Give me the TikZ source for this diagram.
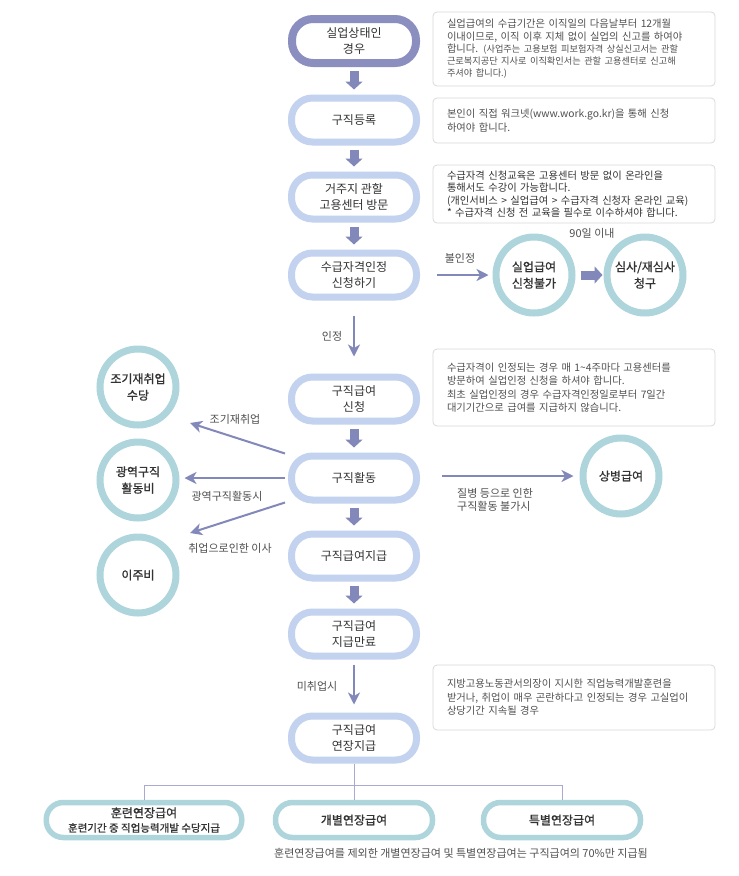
\documentclass[tikz,border=0pt]{standalone}
\usepackage{fontspec}
\setmainfont{Noto Sans CJK KR}
\newfontfamily\heavy[FakeBold=1]{Noto Sans CJK KR}
\usetikzlibrary{arrows.meta,calc}

\definecolor{startc}{HTML}{8A8FBF}
\definecolor{stagec}{HTML}{C3D2EE}
\definecolor{roundc}{HTML}{ADD5DB}
\definecolor{arrowc}{HTML}{8388BA}
\definecolor{notec}{HTML}{DADADA}
\definecolor{textc}{HTML}{333333}
\definecolor{greyc}{HTML}{505050}
\definecolor{treec}{HTML}{A8ABCF}
\newcommand\fine{\fontsize{9.2}{12.3}\selectfont}

\begin{document}
\begin{tikzpicture}[x=1pt,y=-1pt,
  stage/.style={draw=stagec, line width=7pt, rounded corners=21pt, minimum width=125pt, minimum height=44pt, align=center, text=textc, font=\fontsize{12}{16.5}\selectfont, inner sep=0pt},
  start/.style={stage, draw=startc, line width=8pt, minimum width=124pt},
  round/.style={circle, draw=roundc, line width=7pt, minimum size=76pt, align=center, text=textc, font=\heavy\fontsize{12}{16.5}\selectfont, inner sep=0pt},
  ext/.style={draw=roundc, line width=5.5pt, rounded corners=17pt, minimum height=35pt, align=center, text=textc, font=\heavy\fontsize{12}{14.5}\selectfont, inner sep=0pt},
  note/.style={draw=notec, line width=0.8pt, rounded corners=4pt, text width=254pt, inner xsep=14pt, inner ysep=0pt, align=left, text=greyc, font=\fontsize{10.3}{13.5}\selectfont},
  tag/.style={text=greyc, font=\fontsize{11}{13}\selectfont, inner sep=0pt},
  flow/.style={draw=arrowc, line width=9pt, -{Triangle[width=17pt,length=8pt]}, shorten <=4pt, shorten >=5pt},
  link/.style={draw=arrowc, line width=2pt, -{Stealth[length=12pt,width=12pt,inset=3.5pt]}},
  tree/.style={draw=treec, line width=1pt}]
\useasboundingbox[fill=white] (0,0) rectangle (739,876);

% main column
\node[start] (unemp) at (354,41) {실업상태인\\경우};
\node[stage] (register) at (354,120) {구직등록};
\node[stage] (visit) at (354,197) {거주지 관할\\고용센터 방문};
\node[stage] (apply) at (354,275) {수급자격인정\\신청하기};
\node[stage] (claim) at (354,399) {구직급여\\신청};
\node[stage] (search) at (354,478) {구직활동};
\node[stage] (pay) at (354,556) {구직급여지급};
\node[stage] (expire) at (354,634) {구직급여\\지급만료};
\node[stage] (extend) at (354,738) {구직급여\\연장지급};

% side circles
\node[round] (nogo) at (534,275) {실업급여\\신청불가};
\node[round] (review) at (645,275) {심사/재심사\\청구};
\node[round] (early) at (138,387) {조기재취업\\수당};
\node[round] (wide) at (138,480) {광역구직\\활동비};
\node[round] (move) at (138,575) {이주비};
\node[round] (sick) at (621,476) {상병급여};

% notes
\node[note, minimum height=74pt, font=\fontsize{10.3}{12.3}\selectfont] (noteperiod) at (574,49)
  {실업급여의 수급기간은 이직일의 다음날부터 12개월\\
   이내이므로, 이직 이후 지체 없이 실업의 신고를 하여야\\
   합니다. {\fine (사업주는 고용보험 피보험자격 상실신고서는 관할}\\
   {\fine 근로복지공단 지사로 이직확인서는 관할 고용센터로 신고해}\\
   {\fine 주셔야 합니다.)}};
\node[note, minimum height=45pt] (noteweb) at (574,120.5)
  {본인이 직접 워크넷(www.work.go.kr)을 통해 신청\\하여야 합니다.};
\node[note, minimum height=58pt, text=textc, font=\fontsize{10.3}{12.5}\selectfont] (noteedu) at (574,194)
  {수급자격 신청교육은 고용센터 방문 없이 온라인을\\
   통해서도 수강이 가능합니다.\\
   (개인서비스 > 실업급여 > 수급자격 신청자 온라인 교육)\\
   {*} 수급자격 신청 전 교육을 필수로 이수하셔야 합니다.};
\node[note, minimum height=77pt] (notecert) at (574,387.5)
  {수급자격이 인정되는 경우 매 1\textasciitilde 4주마다 고용센터를\\
   방문하여 실업인정 신청을 하셔야 합니다.\\
   최초 실업인정의 경우 수급자격인정일로부터 7일간\\
   대기기간으로 급여를 지급하지 않습니다.};
\node[note, minimum height=65pt] (noteext) at (574,697.5)
  {지방고용노동관서의장이 지시한 직업능력개발훈련을\\
   받거나, 취업이 매우 곤란하다고 인정되는 경우 고실업이\\
   상당기간 지속될 경우};

% bottom row
\node[ext, minimum width=195.5pt] (train) at (144,820)
  {훈련연장급여\\{\fontsize{10.5}{14.5}\selectfont 훈련기간 중 직업능력개발 수당지급}};
\node[ext, minimum width=157pt] (indiv) at (354,820) {개별연장급여};
\node[ext, minimum width=157pt] (special) at (562,820) {특별연장급여};
\coordinate (bus) at (354,785);

% arrows
\draw[flow] (unemp) -- (register);
\draw[flow] (register) -- (visit);
\draw[flow] (visit) -- (apply);
\draw[flow] (claim) -- (search);
\draw[flow] (search) -- (pay);
\draw[flow] (pay) -- (expire);
\draw[flow, shorten <=5pt, shorten >=1pt] (nogo) -- (review);
\draw[link] ($(apply.south)+(0,15)$) -- ($(claim.north)+(0,-17)$);
\draw[link] ($(apply.east)+(17,0)$) -- ($(nogo.west)+(-4,0)$);
\draw[link] ($(search.west)+(-3,-24.5)$) -- ($(early.center)+(52,36)$);
\draw[link] ($(search.west)+(-3,0)$) -- ($(search.west -| wide.east)+(5,0)$);
\draw[link] ($(search.west)+(-3,24.5)$) -- ($(move.center)+(52,-42)$);
\draw[link] ($(search.east |- sick.west)+(22,0)$) -- ($(sick.west)+(-6,0)$);
\draw[link] ($(expire.south)+(0,5)$) -- ($(extend.north)+(0,-8)$);
\draw[tree] (extend.south) -- (bus);
\draw[tree] (train.north) |- (bus) -| (special.north);
\draw[tree] (bus) -- (indiv.north);

% labels
\node[tag] (tagdeny) at (460,258) {불인정};
\node[tag] (tagdays) at (592,233) {90일 이내};
\node[tag] (tagok) at (332,336) {인정};
\node[tag] (tagearly) at (235,419) {조기재취업};
\node[tag] (tagwide) at (227,496) {광역구직활동시};
\node[tag] (tagmove) at (230,548) {취업으로인한 이사};
\node[tag, anchor=west, align=left] (tagsick) at (457,500) {질병 등으로 인한\\구직활동 불가시};
\node[tag] (tagjob) at (317,686) {미취업시};
\node[tag, font=\fontsize{11}{13}\selectfont] (footnote) at (461,853)
  {훈련연장급여를 제외한 개별연장급여 및 특별연장급여는 구직급여의 70\%만 지급됨};
\end{tikzpicture}
\end{document}
